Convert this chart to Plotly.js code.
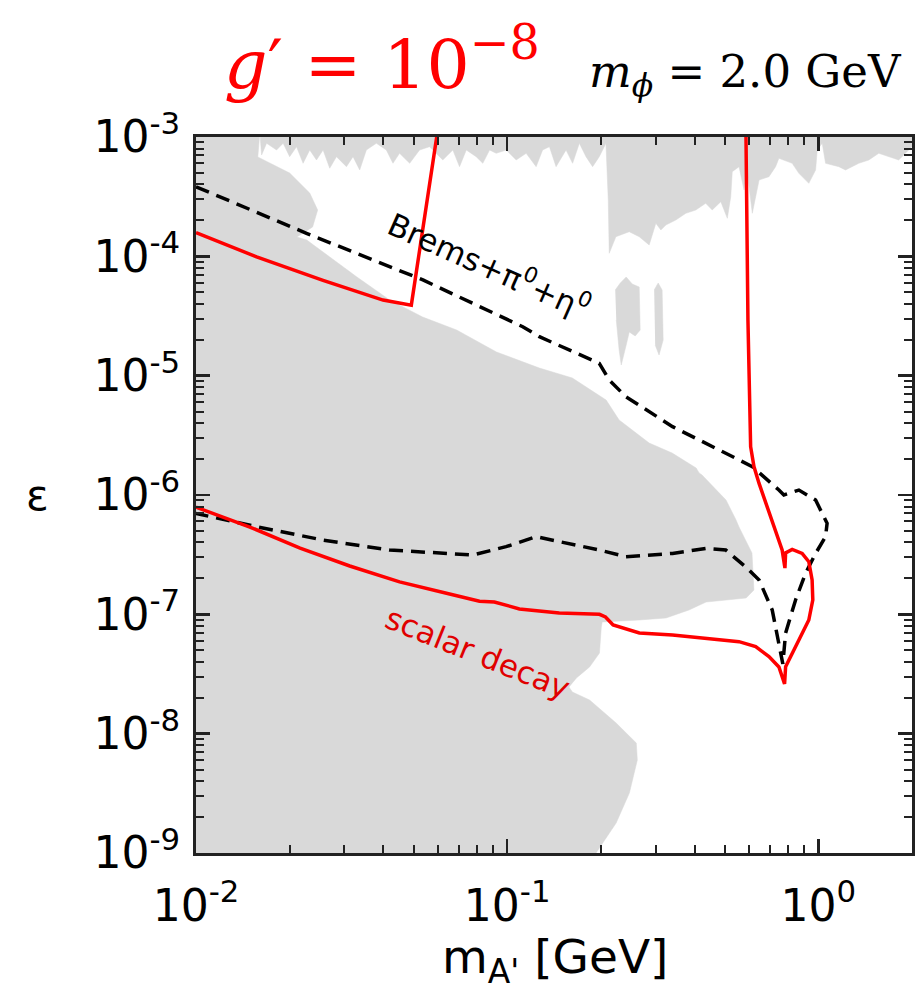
<!DOCTYPE html>
<html><head><meta charset="utf-8">
<script src="https://cdn.plot.ly/plotly-3.0.1.min.js"></script>
<style>html,body{margin:0;padding:0;background:#fff}#chart{width:915px;height:990px}</style>
</head><body><div id="chart"></div>
<script>
// ---- excluded (gray) regions ----
const grayMainMass = [0.009,0.01604,0.0158,0.0200,0.0232,0.0246,0.0237,0.0211,0.0227,0.0269,0.0329,0.0419,0.0535,0.0688,0.0924,0.1269,0.162,0.208,0.229,0.286,0.339,0.405,0.414,0.423,0.505,0.544,0.556,0.612,0.621,0.586,0.436,0.384,0.324,0.266,0.202,0.2007,0.198,0.184,0.167,0.158,0.162,0.184,0.224,0.260,0.262,0.247,0.224,0.193,0.188,0.009];
const grayMainEps  = [1.1e-3,1.1e-3,6.80e-4,4.99e-4,3.39e-4,2.445e-4,1.762e-4,1.452e-4,1.37e-4,9.87e-5,6.71e-5,4.31e-5,3.10e-5,2.414e-5,1.579e-5,1.159e-5,9.56e-6,6.25e-6,4.25e-6,2.727e-6,2.248e-6,1.684e-6,1.529e-6,1.471e-6,9.08e-7,6.17e-7,5.39e-7,3.265e-7,1.599e-7,1.37e-7,1.268e-7,1.087e-7,9.32e-8,8.97e-8,8.62e-8,7.83e-8,4.74e-8,3.62e-8,2.93e-8,2.46e-8,2.234e-8,1.915e-8,1.228e-8,8.35e-9,6.02e-9,3.18e-9,1.784e-9,1.0e-9,8.5e-10,8.5e-10];

const grayTopMass = [0.01604,0.01625,0.01686,0.01815,0.01906,0.0200,0.02104,0.02209,0.0232,0.02439,0.02561,0.0269,0.02827,0.03044,0.03196,0.03358,0.03528,0.03799,0.0409,0.04295,0.0451,0.0486,0.0523,0.0563,0.0621,0.0669,0.0703,0.0739,0.0795,0.0835,0.0878,0.0922,0.0993,0.1069,0.1151,0.1239,0.130,0.1367,0.1436,0.1546,0.1623,0.1706,0.1792,0.1882,0.1977,0.2077,0.2113,0.2128,0.2236,0.2468,0.2657,0.286,0.3005,0.3119,0.3236,0.3484,0.3752,0.4039,0.4346,0.456,0.486,0.510,0.523,0.529,0.556,0.577,0.590,0.6135,0.629,0.645,0.694,0.729,0.747,0.824,0.866,0.932,0.980,0.992,1.029,1.055,1.164,1.223,1.349,1.453,1.564,1.684,1.813,1.905,2.05,2.05];
const grayTopEps  = [1.1e-3,7.07e-4,8.86e-4,7.78e-4,8.86e-4,6.84e-4,8.29e-4,6.02e-4,7.78e-4,6.42e-4,7.78e-4,5.47e-4,6.84e-4,5.64e-4,6.84e-4,5.29e-4,7.78e-4,8.86e-4,7.78e-4,6.02e-4,7.30e-4,6.02e-4,7.78e-4,8.29e-4,6.42e-4,7.78e-4,5.64e-4,7.78e-4,6.84e-4,6.02e-4,7.78e-4,7.30e-4,7.78e-4,6.42e-4,7.30e-4,5.64e-4,7.78e-4,8.29e-4,5.64e-4,7.78e-4,6.02e-4,8.86e-4,6.84e-4,5.64e-4,6.84e-4,8.86e-4,2.966e-4,1.06e-4,1.46e-4,1.608e-4,1.46e-4,1.245e-4,1.891e-4,1.662e-4,1.83e-4,2.016e-4,2.294e-4,2.445e-4,2.782e-4,2.445e-4,2.87e-4,2.083e-4,3.16e-4,5.12e-4,5.64e-4,3.60e-4,5.29e-4,2.294e-4,3.16e-4,4.36e-4,4.65e-4,5.64e-4,6.63e-4,6.02e-4,4.96e-4,4.09e-4,5.29e-4,7.78e-4,8.86e-4,6.02e-4,5.64e-4,5.29e-4,6.02e-4,6.42e-4,7.30e-4,6.84e-4,6.42e-4,7.30e-4,8.86e-4,1.1e-3];

const islandAMass = [0.2225,0.231,0.2413,0.2523,0.2657,0.2676,0.2579,0.2468,0.2413,0.2326,0.229,0.2242];
const islandAEps  = [5.22e-5,5.98e-5,6.71e-5,5.86e-5,5.53e-5,2.414e-5,2.15e-5,2.322e-5,1.807e-5,1.228e-5,1.641e-5,2.93e-5];
const islandBMass = [0.2968,0.3057,0.3148,0.3172,0.3077,0.299];
const islandBEps  = [5.22e-5,5.98e-5,5.22e-5,1.99e-5,1.49e-5,1.807e-5];

// ---- Brems + pi0 + eta0 (black dashed) ----
const bremsMass = [0.01,0.02265,0.0536,0.1122,0.1269,0.1977,0.2128,0.2407,0.340,0.456,0.6135,0.747,0.775,0.866,0.980,1.067,1.055,0.980,0.910,0.845,0.785,0.769,0.747,0.711,0.645,0.584,0.504,0.435,0.340,0.2407,0.1977,0.1366,0.1239,0.0992,0.0776,0.0419,0.0256,0.01566,0.01];
const bremsEps  = [3.83e-4,1.56e-4,6.34e-5,2.57e-5,2.12e-5,1.27e-5,9.2e-6,6.66e-6,3.74e-6,2.54e-6,1.73e-6,1.10e-6,1.0e-6,1.10e-6,9.07e-7,5.79e-7,4.47e-7,3.24e-7,2.21e-7,1.32e-7,6.98e-8,3.84e-8,5.72e-8,1.086e-7,1.94e-7,2.5e-7,3.46e-7,3.57e-7,3.24e-7,3.04e-7,3.46e-7,4.19e-7,4.47e-7,3.69e-7,3.14e-7,3.46e-7,4.19e-7,5.42e-7,7.0e-7];

// ---- scalar decay (red) ----
const redUpperMass = [0.01,0.01566,0.0256,0.0328,0.0399,0.0492,0.0600];
const redUpperEps  = [1.58e-4,0.99e-4,6.3e-5,5.06e-5,4.3e-5,3.9e-5,1.2e-3];
const redMainMass = [0.585,0.594,0.606,0.621,0.645,0.711,0.765,0.781,0.785,0.824,0.887,0.932,0.955,0.960,0.932,0.866,0.814,0.785,0.779,0.747,0.694,0.629,0.556,0.435,0.340,0.266,0.219,0.207,0.198,0.147,0.1095,0.0910,0.0815,0.0653,0.0451,0.0312,0.0216,0.0149,0.0100];
const redMainEps  = [1.2e-3,2.93e-5,2.54e-6,1.73e-6,1.25e-6,6.17e-7,3.46e-7,2.44e-7,3.27e-7,3.5e-7,3.24e-7,2.76e-7,1.94e-7,1.32e-7,8.97e-8,6.1e-8,4.42e-8,3.64e-8,2.61e-8,3.62e-8,4.42e-8,5.36e-8,5.9e-8,6.3e-8,6.71e-8,6.98e-8,8.15e-8,9.5e-8,1.0e-7,1.025e-7,1.11e-7,1.27e-7,1.29e-7,1.48e-7,1.87e-7,2.54e-7,3.59e-7,5.39e-7,7.9e-7];

// ---- axes ----
const xTickVals = [0.01, 0.1, 1];
const xTickText = ['10<sup>-2</sup>', '10<sup>-1</sup>', '10<sup>0</sup>'];
const xMinorVals = [0.02,0.03,0.04,0.05,0.06,0.07,0.08,0.09,0.2,0.3,0.4,0.5,0.6,0.7,0.8,0.9,2];
const yTickVals = [1e-9, 1e-8, 1e-7, 1e-6, 1e-5, 1e-4, 1e-3];
const yTickText = ['10<sup>-9</sup>','10<sup>-8</sup>','10<sup>-7</sup>','10<sup>-6</sup>','10<sup>-5</sup>','10<sup>-4</sup>','10<sup>-3</sup>'];
const yMinorVals = [2e-9,3e-9,4e-9,5e-9,6e-9,7e-9,8e-9,9e-9,2e-8,3e-8,4e-8,5e-8,6e-8,7e-8,8e-8,9e-8,2e-7,3e-7,4e-7,5e-7,6e-7,7e-7,8e-7,9e-7,2e-6,3e-6,4e-6,5e-6,6e-6,7e-6,8e-6,9e-6,2e-5,3e-5,4e-5,5e-5,6e-5,7e-5,8e-5,9e-5,2e-4,3e-4,4e-4,5e-4,6e-4,7e-4,8e-4,9e-4];

const GRAY = 'rgb(217,217,217)';
const grayFill = (x, y) => ({x, y, mode:'lines', fill:'toself', fillcolor:GRAY, line:{width:0.5, color:GRAY}, hoverinfo:'skip', showlegend:false});

const traces = [
  grayFill(grayMainMass, grayMainEps),
  grayFill(grayTopMass, grayTopEps),
  grayFill(islandAMass, islandAEps),
  grayFill(islandBMass, islandBEps),
  {x:bremsMass, y:bremsEps, mode:'lines', line:{color:'#000', width:3.5, dash:'14px,8px'}, showlegend:false},
  {x:redUpperMass, y:redUpperEps, mode:'lines', line:{color:'#ff0000', width:3.5}, showlegend:false},
  {x:redMainMass, y:redMainEps, mode:'lines', line:{color:'#ff0000', width:3.5}, showlegend:false}
];

const tickFont = {family:'DejaVu Sans', size:44, color:'#000'};
const axisCommon = {
  type:'log', showgrid:false, zeroline:false, showline:true, linecolor:'#222', linewidth:3,
  mirror:'allticks', ticks:'inside', ticklen:14, tickwidth:2.5, tickcolor:'#222', tickfont:tickFont
};

const layout = {
  width:915, height:990,
  margin:{l:196, r:3, t:137, b:137, pad:0},
  paper_bgcolor:'#fff', plot_bgcolor:'#fff',
  showlegend:false,
  xaxis:Object.assign({}, axisCommon, {range:[-2, Math.log10(2)], tickmode:'array', tickvals:xTickVals, ticktext:xTickText, ticklabelstandoff:12,
    minor:{tickmode:'array', tickvals:xMinorVals, ticks:'inside', ticklen:8, tickwidth:2, tickcolor:'#222', showgrid:false}}),
  yaxis:Object.assign({}, axisCommon, {range:[-9, -3], tickmode:'array', tickvals:yTickVals, ticktext:yTickText, ticklabelstandoff:4,
    minor:{tickmode:'array', tickvals:yMinorVals, ticks:'inside', ticklen:8, tickwidth:2, tickcolor:'#222', showgrid:false}}),
  annotations:[
    {text:'<i>g</i>′ = 10<sup>−8</sup>', xref:'paper', yref:'paper', x:0.2598, y:1.108, xanchor:'center', yanchor:'middle', showarrow:false, font:{family:'DejaVu Serif', size:68, color:'#ff0000'}},
    {text:'<i>m</i><sub><i>ϕ</i></sub> = 2.0 GeV', xref:'paper', yref:'paper', x:0.7668, y:1.088, xanchor:'center', yanchor:'middle', showarrow:false, font:{family:'DejaVu Serif', size:45, color:'#000'}},
    {text:'ε', xref:'paper', yref:'paper', x:-0.222, y:0.5, xanchor:'center', yanchor:'middle', showarrow:false, font:{family:'DejaVu Sans', size:42, color:'#000'}},
    {text:'m<sub>A\'</sub> [GeV]', xref:'paper', yref:'paper', x:0.5014, y:-0.149, xanchor:'center', yanchor:'middle', showarrow:false, font:{family:'DejaVu Sans', size:47, color:'#000'}},
    {text:'Brems+π<sup>0</sup>+η<sup>0</sup>', xref:'paper', yref:'paper', x:0.4106, y:0.8212, xanchor:'center', yanchor:'middle', textangle:24, showarrow:false, font:{family:'DejaVu Sans', size:31, color:'#000'}},
    {text:'scalar decay', xref:'paper', yref:'paper', x:0.3939, y:0.2793, xanchor:'center', yanchor:'middle', textangle:22, showarrow:false, font:{family:'DejaVu Sans', size:31, color:'#e00000'}}
  ]
};

Plotly.newPlot('chart', traces, layout, {staticPlot:true, displayModeBar:false});
</script>
</body></html>
